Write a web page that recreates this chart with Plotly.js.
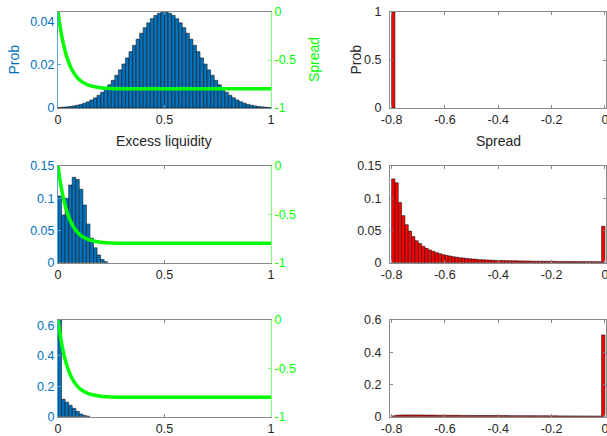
<!DOCTYPE html>
<html>
<head>
<meta charset="utf-8">
<script src="https://cdn.plot.ly/plotly-3.0.1.min.js"></script>
<style>html,body{margin:0;padding:0;background:#fff;}#chart{width:607px;height:436px;}</style>
</head>
<body>
<div id="chart"></div>
<script>
// ---- data ----
// Excess liquidity histograms: 60 bins of width 1/60 on [0, 1]
var liqBinStart = 1/120;
var liqBinWidth = 1/60;
var probTopLeft = [0.00026,0.00037,0.00051,0.0007,0.00096,0.00128,0.00171,0.00224,0.0029,0.00372,
  0.00471,0.0059,0.0073,0.00892,0.01078,0.01287,0.01519,0.01771,0.02041,0.02325,
  0.02616,0.0291,0.03198,0.03474,0.0373,0.03957,0.04149,0.04298,0.04401,0.04453,
  0.04453,0.04401,0.04298,0.04149,0.03957,0.0373,0.03474,0.03198,0.0291,0.02616,
  0.02325,0.02041,0.01771,0.01519,0.01287,0.01078,0.00892,0.0073,0.0059,0.00471,
  0.00372,0.0029,0.00224,0.00171,0.00128,0.00096,0.0007,0.00051,0.00037,0.00026];
var probMidLeft = [0.1035,0.074,0.0999,0.1205,0.1325,0.129,0.1138,0.0895,0.06,0.038,0.023,0.012,0.005,0.0015];
var probBotLeft = [0.635,0.115,0.095,0.075,0.055,0.035,0.018,0.008,0.003];

// Spread function (green line)
var spreadX = [0,0.01,0.02,0.03,0.04,0.05,0.06,0.07,0.08,0.1,0.12,0.15,0.2,0.25,0.3,0.5,1];
var spreadY = [0,-0.154,-0.277,-0.377,-0.458,-0.524,-0.577,-0.619,-0.654,-0.705,-0.738,-0.767,-0.789,-0.796,-0.799,-0.8,-0.8];

// Spread histograms: 64 bins of width 0.0125 on [-0.8, 0]
var sprBinStart = -0.79375;
var sprBinWidth = 0.0125;
var probTopRight = [1];
var probMidRight = [0.13,0.124,0.0934,0.073,0.059,0.049,0.0405,0.034,0.0296,0.0254,
  0.0223,0.0197,0.0176,0.0156,0.014,0.0125,0.0114,0.0104,0.0093,0.0086,
  0.0078,0.0073,0.0067,0.0062,0.0057,0.0052,0.0047,0.0044,0.0042,
  0.0040,0.0038,0.0036,0.0035,0.0033,0.0032,0.0031,0.0030,0.0029,0.0028,
  0.0027,0.0026,0.0025,0.0024,0.0024,0.0023,0.0022,0.0022,0.0021,0.0021,
  0.0020,0.0020,0.0019,0.0019,0.0018,0.0018,0.0017,0.0017,0.0017,0.0016,
  0.0016,0.0016,0.0015,0.0015,0.0565];
var probBotRight = [0.005,0.009,0.010,0.011,0.011,0.011,0.011,0.011,0.0105,0.0105,
  0.010,0.010,0.0098,0.0096,0.0094,0.0092,0.009,0.0088,0.0086,0.0085,
  0.0083,0.0082,0.008,0.0079,0.0078,0.0076,0.0075,0.0074,0.0073,0.0072,
  0.0071,0.007,0.0069,0.0068,0.0067,0.0066,0.0065,0.0064,0.0063,0.0062,
  0.0061,0.006,0.0059,0.0058,0.0057,0.0056,0.0055,0.0054,0.0053,0.0052,
  0.0051,0.005,0.0049,0.0048,0.0047,0.0046,0.0045,0.0044,0.0043,0.0042,
  0.0041,0.004,0.0039,0.507];

// tick labels
var liqTicks = [0,0.5,1], liqTickText = ['0','0.5','1'];
var sprTicks = [-0.8,-0.6,-0.4,-0.2,0], sprTickText = ['-0.8','-0.6','-0.4','-0.2','0'];
var greenTicks = [-1,-0.5,0], greenTickText = ['-1','-0.5','0'];
var tlTicks = [0,0.02,0.04], tlText = ['0','0.02','0.04'];
var mlTicks = [0,0.05,0.1,0.15], mlText = ['0','0.05','0.1','0.15'];
var blTicks = [0,0.2,0.4,0.6], blText = ['0','0.2','0.4','0.6'];
var trTicks = [0,0.5,1], trText = ['0','0.5','1'];
var mrTicks = [0,0.05,0.1,0.15], mrText = ['0','0.05','0.1','0.15'];
var brTicks = [0,0.2,0.4,0.6], brText = ['0','0.2','0.4','0.6'];

// ---- styling ----
var W = 607, H = 436;
var FONT = 'Liberation Sans, Arial, Helvetica, sans-serif';
var BLUE = '#0072BD', GREEN = '#00FF00', DARK = '#262626', GREY = '#8a8a8a';
var BLUE_LINE = '#5fa3d6', GREEN_LINE = '#7cfc7c';
function px(x){return x/W;}
function py(y){return 1-y/H;}
var leftDom = [px(58), px(271)];
var rightDom = [px(390), px(606)];
var rows = [[py(108), py(12)], [py(262.7), py(166)], [py(416.7), py(320)]];

function liqBars(y, xa, ya){
  return {type:'bar', x0:liqBinStart, dx:liqBinWidth, y:y, width:liqBinWidth,
    xaxis:xa, yaxis:ya, marker:{color:BLUE, line:{color:'#1a1a1a', width:0.6}}, hoverinfo:'skip'};
}
function sprBars(y, xa, ya){
  return {type:'bar', x0:sprBinStart, dx:sprBinWidth, y:y, width:sprBinWidth,
    xaxis:xa, yaxis:ya, marker:{color:'#FF0000', line:{color:'#1a1a1a', width:0.6}}, hoverinfo:'skip'};
}
function spreadLine(xa, ya){
  return {type:'scatter', mode:'lines', x:spreadX, y:spreadY, xaxis:xa, yaxis:ya,
    line:{color:GREEN, width:3.5, shape:'spline', smoothing:0.6}, hoverinfo:'skip'};
}

var data = [
  liqBars(probTopLeft,'x','y'), spreadLine('x','y7'),
  sprBars(probTopRight,'x2','y2'),
  liqBars(probMidLeft,'x3','y3'), spreadLine('x3','y8'),
  sprBars(probMidRight,'x4','y4'),
  liqBars(probBotLeft,'x5','y5'), spreadLine('x5','y9'),
  sprBars(probBotRight,'x6','y6')
];

var tickFont = {family:FONT, size:12.5, color:DARK};
function xLiq(anchor){
  return {domain:leftDom, anchor:anchor, range:[0,1], tickvals:liqTicks, ticktext:liqTickText,
    showline:true, linecolor:GREY, linewidth:1, mirror:'ticks', ticks:'inside', ticklen:3, tickcolor:GREY,
    showgrid:false, zeroline:false, tickfont:tickFont, fixedrange:true, ticklabeloverflow:'allow'};
}
function xSpr(anchor){
  return {domain:rightDom, anchor:anchor, range:[-0.806,0.004], tickvals:sprTicks, ticktext:sprTickText,
    showline:true, linecolor:GREY, linewidth:1, mirror:'ticks', ticks:'inside', ticklen:3, tickcolor:GREY,
    showgrid:false, zeroline:false, tickfont:tickFont, fixedrange:true, ticklabeloverflow:'allow'};
}
function yLeft(dom, anchor, range, tv, tt){
  return {domain:dom, anchor:anchor, range:range, tickvals:tv, ticktext:tt,
    showline:true, linecolor:BLUE_LINE, linewidth:1, ticks:'inside', ticklen:3, tickcolor:BLUE_LINE,
    showgrid:false, zeroline:false, tickfont:{family:FONT, size:12.5, color:BLUE}, fixedrange:true, ticklabeloverflow:'allow'};
}
function yGreen(overlay, anchor){
  return {overlaying:overlay, anchor:anchor, side:'right', range:[-1,0], tickvals:greenTicks, ticktext:greenTickText,
    showline:true, linecolor:GREEN_LINE, linewidth:1, ticks:'inside', ticklen:3, tickcolor:GREEN_LINE,
    showgrid:false, zeroline:false, tickfont:{family:FONT, size:12.5, color:GREEN}, fixedrange:true, ticklabeloverflow:'allow'};
}
function yRight(dom, anchor, range, tv, tt){
  return {domain:dom, anchor:anchor, range:range, tickvals:tv, ticktext:tt,
    showline:true, linecolor:GREY, linewidth:1, mirror:'ticks', ticks:'inside', ticklen:3, tickcolor:GREY,
    showgrid:false, zeroline:false, tickfont:tickFont, fixedrange:true, ticklabeloverflow:'allow', ticklabelstandoff:5};
}

function ann(text, x, y, color, angle){
  return {text:text, xref:'paper', yref:'paper', x:px(x), y:py(y), xanchor:'center', yanchor:'middle',
    showarrow:false, textangle:angle||0, font:{family:FONT, size:14, color:color}};
}

var layout = {
  width:W, height:H, margin:{l:0,r:0,t:0,b:0}, paper_bgcolor:'#fff', plot_bgcolor:'#fff',
  showlegend:false, bargap:0, barmode:'overlay',
  xaxis:xLiq('y'), yaxis:yLeft(rows[0],'x',[0,0.0446],tlTicks,tlText),
  xaxis2:xSpr('y2'), yaxis2:yRight(rows[0],'x2',[0,1],trTicks,trText),
  xaxis3:xLiq('y3'), yaxis3:yLeft(rows[1],'x3',[0,0.15],mlTicks,mlText),
  xaxis4:xSpr('y4'), yaxis4:yRight(rows[1],'x4',[0,0.15],mrTicks,mrText),
  xaxis5:xLiq('y5'), yaxis5:yLeft(rows[2],'x5',[0,0.635],blTicks,blText),
  xaxis6:xSpr('y6'), yaxis6:yRight(rows[2],'x6',[0,0.6],brTicks,brText),
  yaxis7:yGreen('y','x'), yaxis8:yGreen('y3','x3'), yaxis9:yGreen('y5','x5'),
  annotations:[
    ann('Prob', 13.5, 60, BLUE, -90),
    ann('Spread', 314, 60, GREEN, -90),
    ann('Prob', 355.5, 60, DARK, -90),
    ann('Excess liquidity', 164, 141, DARK, 0),
    ann('Spread', 498, 141, DARK, 0)
  ]
};

Plotly.newPlot('chart', data, layout, {staticPlot:true, displayModeBar:false});
</script>
</body>
</html>
